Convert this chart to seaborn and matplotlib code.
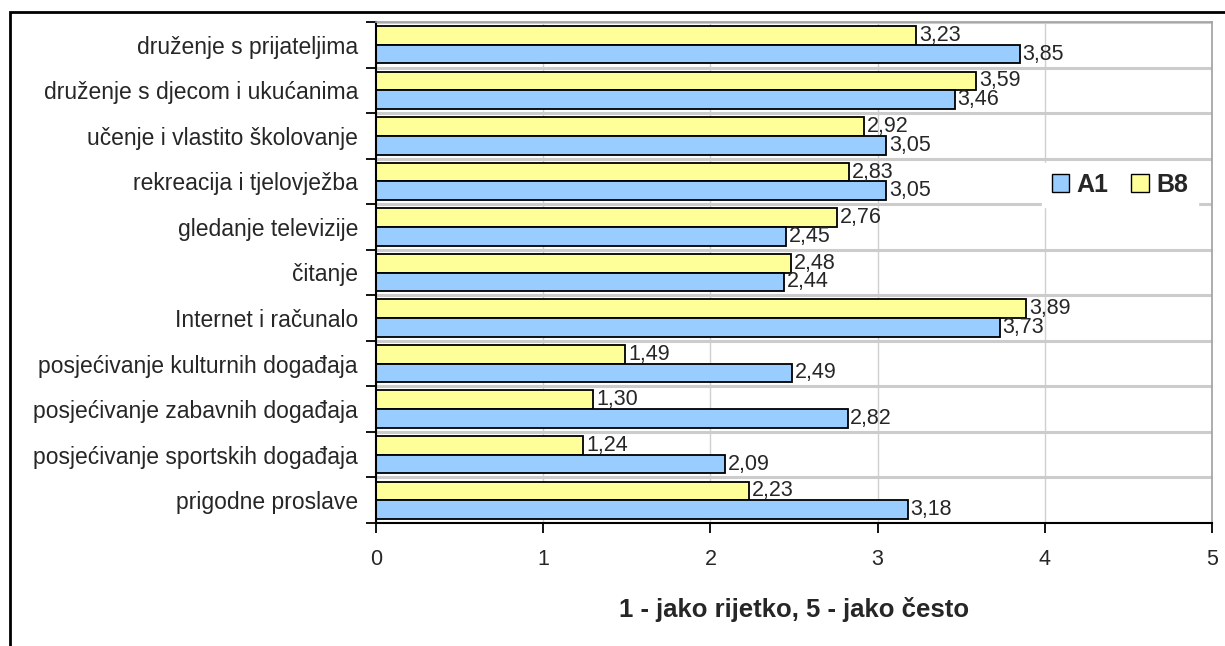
import pandas as pd
import matplotlib
matplotlib.use('Agg')
import matplotlib.pyplot as plt
import matplotlib.patches as mpatches
import seaborn as sns

# Data
categories = [
    'druženje s prijateljima',
    'druženje s djecom i ukućanima',
    'učenje i vlastito školovanje',
    'rekreacija i tjelovježba',
    'gledanje televizije',
    'čitanje',
    'Internet i računalo',
    'posjećivanje kulturnih događaja',
    'posjećivanje zabavnih događaja',
    'posjećivanje sportskih događaja',
    'prigodne proslave',
]
a1 = [3.85, 3.46, 3.05, 3.05, 2.45, 2.44, 3.73, 2.49, 2.82, 2.09, 3.18]
b8 = [3.23, 3.59, 2.92, 2.83, 2.76, 2.48, 3.89, 1.49, 1.30, 1.24, 2.23]
x_ticks = [0, 1, 2, 3, 4, 5]
x_label = '1 - jako rijetko, 5 - jako često'

colors = {'A1': '#99CCFF', 'B8': '#FFFF99'}

df = pd.DataFrame({
    'kategorija': categories * 2,
    'vrijednost': a1 + b8,
    'grupa': ['A1'] * len(a1) + ['B8'] * len(b8),
})

sns.set_style('white')
plt.rcParams['font.family'] = ['Liberation Sans', 'DejaVu Sans']

fig = plt.figure(figsize=(12.25, 6.46), dpi=100)
ax = fig.add_axes([376 / 1225, 1 - 523 / 646, (1212 - 376) / 1225, (523 - 22) / 646])

sns.barplot(data=df, y='kategorija', x='vrijednost', hue='grupa',
            hue_order=['B8', 'A1'], order=categories, palette=colors,
            saturation=1, width=0.82, edgecolor='black', linewidth=1.3,
            orient='h', legend=False, ax=ax)

# value labels with decimal comma
for cont in ax.containers:
    vals = cont.datavalues
    ax.bar_label(cont, labels=[f'{v:.2f}'.replace('.', ',') for v in vals],
                 padding=2, fontsize=15.5)

ax.set_xlim(0, 5)
ax.set_ylim(len(categories) - 0.5, -0.5)
ax.set_xticks(x_ticks)
ax.set_xticklabels([str(t) for t in x_ticks])
ax.tick_params(axis='x', bottom=True, length=7, width=1.3, color='black', pad=12,
               direction='out', labelsize=15.5)
ax.tick_params(axis='y', which='major', left=True, length=0, pad=13, labelsize=16.5)
ax.set_yticks([i + 0.5 for i in range(-1, len(categories))], minor=True)
ax.tick_params(axis='y', which='minor', left=True, length=7, width=1.3, color='black', direction='out')
ax.set_ylabel('')
ax.set_xlabel(x_label, fontsize=18.5, fontweight='bold', labelpad=19)

ax.grid(axis='x', color='#d0d0d0', linewidth=1.0)
ax.grid(axis='y', which='minor', color='#cccccc', linewidth=2.2)
ax.set_axisbelow(True)

for side in ['left', 'bottom']:
    ax.spines[side].set_color('black')
    ax.spines[side].set_linewidth(1.5)
for side in ['top', 'right']:
    ax.spines[side].set_color('#a0a0a0')
    ax.spines[side].set_linewidth(1.2)

handles = [mpatches.Patch(facecolor=colors[g], edgecolor='black', label=g) for g in ['A1', 'B8']]
leg = ax.legend(handles=handles, loc='center', bbox_to_anchor=(0.89, 0.675), ncol=2,
                frameon=True, fancybox=False, framealpha=1, edgecolor='white',
                prop={'weight': 'bold', 'size': 18}, handlelength=0.7, handleheight=0.7,
                handletextpad=0.3, columnspacing=0.9, borderpad=0.4)

# outer chart border
fig.patches.append(mpatches.Rectangle((10 / 1225, -0.1), 1.2, 1 - 12 / 646 + 0.1,
                                      transform=fig.transFigure, fill=False,
                                      edgecolor='black', linewidth=2))

fig.savefig('out.png', dpi=100)
